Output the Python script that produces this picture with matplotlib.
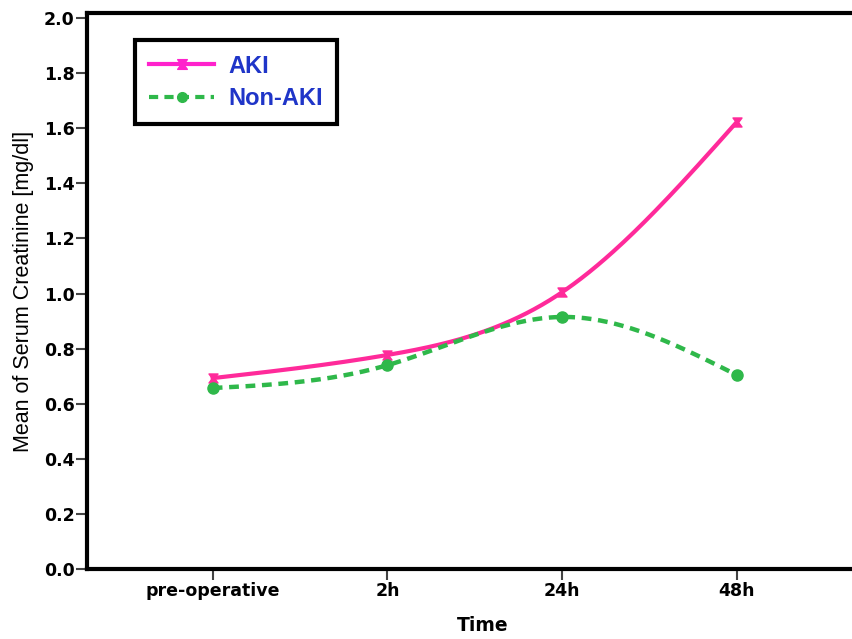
import matplotlib
matplotlib.use("Agg")
import matplotlib.pyplot as plt
from matplotlib.path import Path
from matplotlib.lines import Line2D
import numpy as np

# data
times = ["pre-operative", "2h", "24h", "48h"]
aki = [0.693, 0.777, 1.005, 1.623]
non_aki = [0.657, 0.740, 0.915, 0.704]

pink = "#ff2a9a"
green = "#2fb84a"

# small hourglass marker like the one in the reference (error bar caps)
hourglass = Path([(-1, 1), (1, 1), (0.25, 0), (1, -1), (-1, -1), (-0.25, 0), (-1, 1)],
                 [Path.MOVETO] + [Path.LINETO] * 5 + [Path.CLOSEPOLY])


def smooth(x, y, n=200):
    # natural cubic spline through the points, only for drawing the line
    x = np.asarray(x, float)
    y = np.asarray(y, float)
    k = len(x)
    h = np.diff(x)
    A = np.zeros((k, k))
    b = np.zeros(k)
    A[0, 0] = A[-1, -1] = 1
    for i in range(1, k - 1):
        A[i, i - 1] = h[i - 1]
        A[i, i] = 2 * (h[i - 1] + h[i])
        A[i, i + 1] = h[i]
        b[i] = 6 * ((y[i + 1] - y[i]) / h[i] - (y[i] - y[i - 1]) / h[i - 1])
    M = np.linalg.solve(A, b)
    xs = np.linspace(x[0], x[-1], n)
    idx = np.clip(np.searchsorted(x, xs) - 1, 0, k - 2)
    x0, x1 = x[idx], x[idx + 1]
    hh = x1 - x0
    t0, t1 = x1 - xs, xs - x0
    ys = (M[idx] * t0**3 + M[idx + 1] * t1**3) / (6 * hh) \
        + (y[idx] / hh - M[idx] * hh / 6) * t0 \
        + (y[idx + 1] / hh - M[idx + 1] * hh / 6) * t1
    return xs, ys


plt.rcParams['font.family'] = ['Liberation Sans', 'DejaVu Sans']

fig = plt.figure(figsize=(8.52, 6.39), dpi=100)
ax = fig.add_axes([0.102, 0.1095, 0.93, 0.870])

pos = np.arange(len(times))
dash = (0, (2.2, 1.5))

xs, ys = smooth(pos, aki)
ax.plot(xs, ys, color=pink, lw=3, zorder=3)
ax.plot(pos, aki, ls='none', marker=hourglass, color=pink, ms=6.5, zorder=4)

xs, ys = smooth(pos, non_aki)
ax.plot(xs, ys, color=green, lw=3.2, ls=dash, zorder=3)
ax.plot(pos, non_aki, 'o', color=green, ms=8, zorder=4)

ax.set_xlim(-0.72, 3.815)
ax.set_ylim(0, 2.018)
ax.set_xticks(pos)
ax.set_xticklabels(times)
ax.set_yticks(np.arange(0, 2.01, 0.2))
ax.set_yticklabels([f"{v:.1f}" for v in np.arange(0, 2.01, 0.2)])

for s in ax.spines.values():
    s.set_linewidth(3)
ax.spines['right'].set_visible(False)
ax.tick_params(direction='out', length=8, width=1.5, labelsize=12.5, pad=1,
               color='#444444')
for lab in ax.get_xticklabels() + ax.get_yticklabels():
    lab.set_fontweight('bold')
    lab.set_family('DejaVu Sans')

ax.set_ylabel("Mean of Serum Creatinine [mg/dl]", fontsize=15.5, labelpad=7)
ax.set_xlabel("Time", fontsize=13.5, fontweight='bold', family='DejaVu Sans',
              labelpad=12)

# legend
h1 = Line2D([], [], color="#ff22cc", lw=3, marker=hourglass, ms=7)
h2 = Line2D([], [], color=green, lw=3, ls=dash, marker='o', ms=7)
leg = ax.legend([h1, h2], ["AKI", "Non-AKI"], loc='upper left',
                bbox_to_anchor=(0.0606, 0.951), borderaxespad=0,
                fancybox=False, framealpha=1, edgecolor='black',
                handlelength=2.75, handletextpad=0.6, borderpad=0.6,
                labelspacing=0.4, prop={'weight': 'bold', 'size': 17})
leg.get_frame().set_linewidth(3)
for t in leg.get_texts():
    t.set_color("#1f35c8")

fig.savefig("out.png", dpi=100)
